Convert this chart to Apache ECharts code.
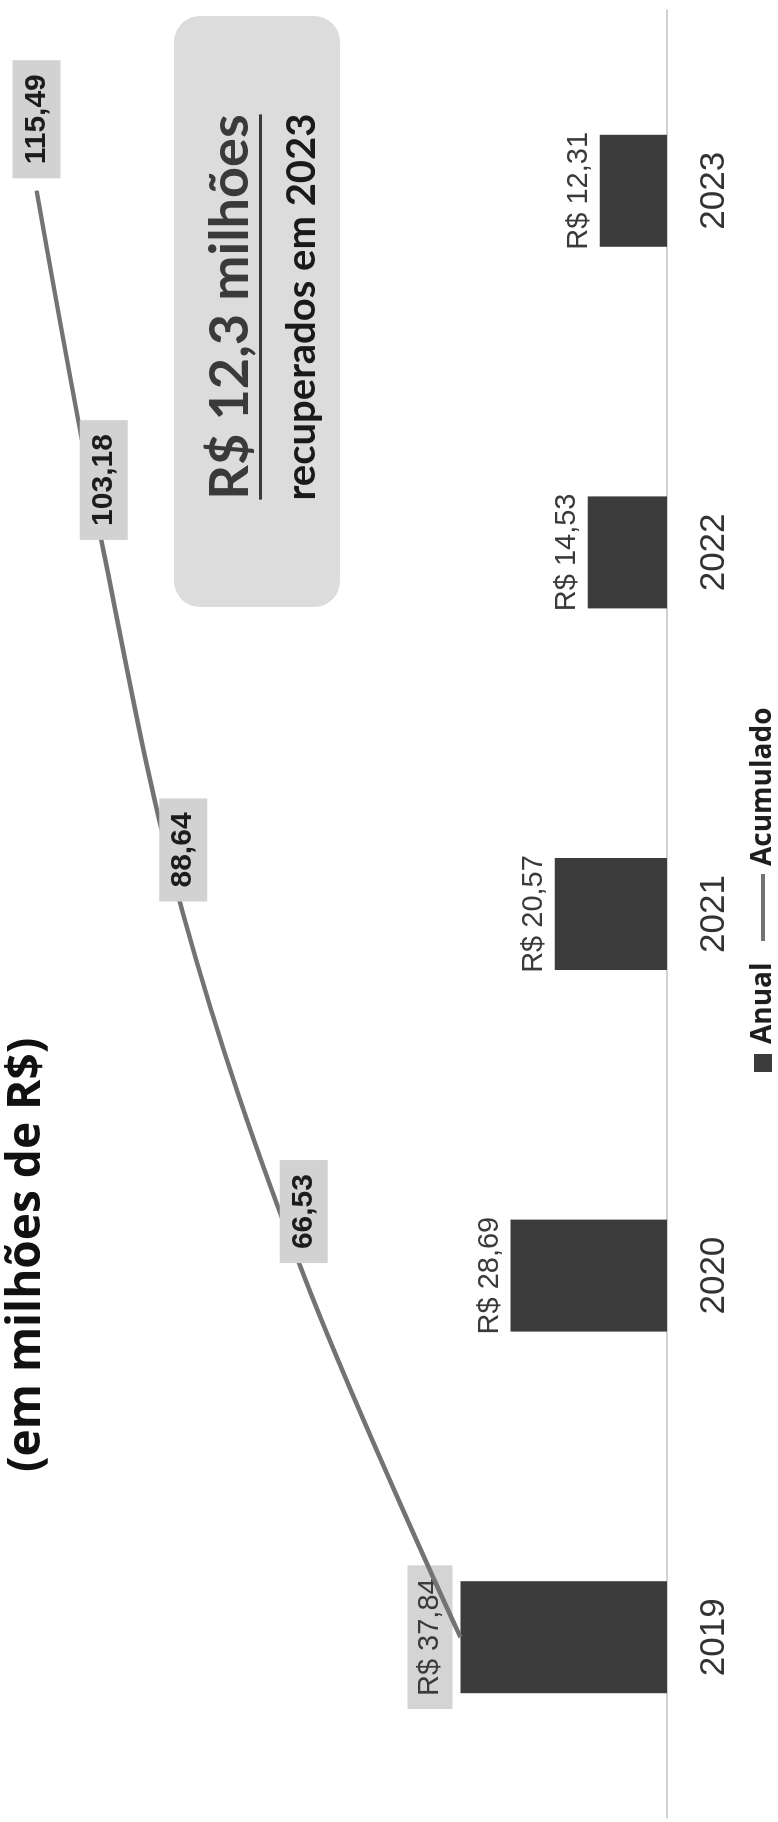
<!DOCTYPE html>
<html><head><meta charset="utf-8">
<script src="https://cdn.jsdelivr.net/npm/echarts@6/dist/echarts.min.js"></script>
<style>
html,body{margin:0;padding:0;background:#fff;overflow:hidden;width:778px;height:1822px;}
#wrap{position:absolute;left:0;top:0;width:1822px;height:778px;transform-origin:0 0;transform:translateY(1822px) rotate(-90deg);}
#chart{width:1822px;height:778px;}
</style></head><body>
<div id="wrap"><div id="chart"></div></div>
<script>
const categories = ['2019', '2020', '2021', '2022', '2023'];
const anual = [37.84, 28.69, 20.57, 14.53, 12.31];
const acumulado = [37.84, 66.53, 88.64, 103.18, 115.49];
const titleText = '(em milhões de R$)';
const highlightLine1 = 'R$ 12,3 milhões';
const highlightLine2 = 'recuperados em 2023';
const legendNames = ['Anual', 'Acumulado'];

const fmt = v => v.toFixed(2).replace('.', ',');

const line1Font = 'bold 54px Lato';
const line2Font = 'bold 40px Lato';
const cx = 1515;
const mc = document.createElement('canvas').getContext('2d');
mc.font = line1Font;
const w1 = mc.measureText(highlightLine1).width;

const chart = echarts.init(document.getElementById('chart'), null, {renderer: 'canvas', width: 1822, height: 778});
chart.setOption({
  animation: false,
  backgroundColor: '#ffffff',
  title: {
    text: titleText, left: 345, top: -1,
    textStyle: {fontFamily: 'Open Sans', fontWeight: 'bold', fontSize: 46, color: '#111'}
  },
  legend: [
    {data: [{name: legendNames[0], icon: 'rect'}], left: 745, top: 744, itemWidth: 18, itemHeight: 18,
     textStyle: {fontFamily: 'Open Sans', fontWeight: 'bold', fontSize: 28, color: '#1e1e1e', padding: [0, 0, 0, 5]}},
    {data: [{name: legendNames[1], icon: 'rect'}], left: 876, top: 744, itemWidth: 67, itemHeight: 4,
     textStyle: {fontFamily: 'Open Sans', fontWeight: 'bold', fontSize: 28, color: '#1e1e1e', padding: [0, 0, 0, 3]}}
  ],
  grid: {left: 4, right: 10, top: 12, bottom: 111, containLabel: false},
  xAxis: {
    type: 'category', data: categories,
    axisLine: {lineStyle: {color: '#c4c4c4', width: 1.5}},
    axisTick: {show: false},
    axisLabel: {fontFamily: 'Liberation Sans', fontSize: 35, color: '#333', margin: 30}
  },
  yAxis: {type: 'value', min: 0, max: 120, show: false, splitLine: {show: false}},
  series: [
    {
      name: legendNames[0], type: 'bar', barWidth: 112,
      data: anual.map((v, i) => i === 0 ? {value: v, label: {backgroundColor: '#d4d4d4', padding: [8, 13], distance: 8}} : v),
      itemStyle: {color: '#3c3c3c'},
      label: {show: true, position: 'top', distance: 6, formatter: p => 'R$ ' + fmt(p.value),
              fontFamily: 'Liberation Sans', fontSize: 29, color: '#3a3a3a'}
    },
    {
      name: legendNames[1], type: 'line', smooth: 0.35,
      data: acumulado.map((v, i) => i === 0 ? {value: v, label: {show: false}} : v),
      symbol: 'circle', symbolSize: 1, showSymbol: true,
      lineStyle: {color: '#737373', width: 4.5}, itemStyle: {color: '#737373'},
      label: {show: true, position: 'right', distance: 12, formatter: p => fmt(p.value),
              fontFamily: 'Liberation Sans', fontWeight: 'bold', fontSize: 30, color: '#1c1c1c',
              backgroundColor: '#d2d2d2', padding: [9, 14]}
    }
  ],
  graphic: [
    {type: 'rect', shape: {x: 1215, y: 174, width: 591, height: 166, r: 26}, style: {fill: '#dcdcdc'}, z: 0},
    {type: 'text', style: {text: highlightLine1, x: cx, y: 231, font: line1Font, fill: '#3a3a3a', align: 'center', verticalAlign: 'middle', textAlign: 'center', textVerticalAlign: 'middle'}, z: 1},
    {type: 'rect', shape: {x: cx - w1 / 2, y: 259, width: w1, height: 3}, style: {fill: '#3a3a3a'}, z: 1},
    {type: 'text', style: {text: highlightLine2, x: cx, y: 302, font: line2Font, fill: '#1a1a1a', align: 'center', verticalAlign: 'middle', textAlign: 'center', textVerticalAlign: 'middle'}, z: 1}
  ]
});
</script>
</body></html>
